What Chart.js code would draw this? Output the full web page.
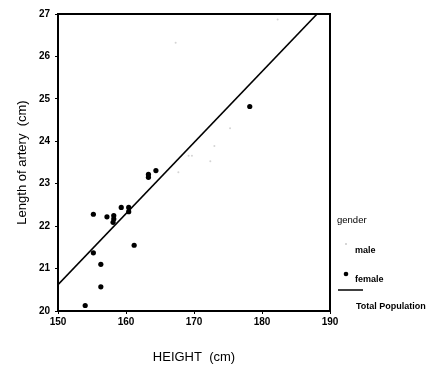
<!DOCTYPE html>
<html>
<head>
<meta charset="utf-8">
<script src="https://cdn.jsdelivr.net/npm/chart.js@4"></script>
<style>
  body { margin: 0; background: #fff; }
</style>
</head>
<body>
<canvas id="arteryChart" width="432" height="366"></canvas>
<script>
// ========================
// DADOS
// ========================

const femaleHeight = [155.2, 157.2, 158.2, 158.2, 158.1, 159.3, 160.4, 160.4, 163.3, 163.3, 164.4, 178.2, 161.2, 155.2, 156.3, 156.3, 154.0];
const femaleLength = [22.28, 22.22, 22.25, 22.17, 22.09, 22.44, 22.44, 22.34, 23.22, 23.15, 23.31, 24.82, 21.55, 21.37, 21.10, 20.57, 20.13];

const maleHeight = [167.3, 182.3, 175.3, 173.0, 169.2, 169.7, 172.4, 167.7];
const maleLength = [26.32, 26.87, 24.31, 23.89, 23.66, 23.66, 23.53, 23.27];

// reta de regressão (população total)
const fitHeight = [150, 188.1];
const fitLength = [20.62, 27];

const xTicks = [150, 160, 170, 180, 190];
const yTicks = [20, 21, 22, 23, 24, 25, 26, 27];

const toPoints = (xs, ys) => xs.map((x, i) => ({ x: x, y: ys[i] }));

const FONT = 'Liberation Sans, Arial, sans-serif';

// ========================
// MOLDURA + LEGENDA
// ========================

const framePlugin = {
  id: 'frame',
  afterDatasetsDraw(chart) {
    const { ctx, chartArea: a } = chart;
    ctx.save();
    ctx.strokeStyle = '#000';
    ctx.lineWidth = 2;
    ctx.strokeRect(a.left, a.top, a.right - a.left, a.bottom - a.top);
    ctx.restore();
  }
};

const legendPlugin = {
  id: 'genderLegend',
  afterDraw(chart) {
    const ctx = chart.ctx;
    ctx.save();
    ctx.fillStyle = '#000';
    ctx.textBaseline = 'middle';
    ctx.textAlign = 'left';

    ctx.font = '9.5px ' + FONT;
    ctx.fillText('gender', 337, 220);

    ctx.font = 'bold 9px ' + FONT;
    // male
    ctx.fillStyle = '#c8c8c8';
    ctx.beginPath();
    ctx.arc(346, 244, 1, 0, Math.PI * 2);
    ctx.fill();
    ctx.fillStyle = '#000';
    ctx.fillText('male', 355, 251);

    // female
    ctx.beginPath();
    ctx.arc(346, 274, 2.3, 0, Math.PI * 2);
    ctx.fill();
    ctx.fillText('female', 355, 280);

    // total
    ctx.strokeStyle = '#000';
    ctx.lineWidth = 1.5;
    ctx.beginPath();
    ctx.moveTo(338, 290);
    ctx.lineTo(363, 290);
    ctx.stroke();
    ctx.fillText('Total Population', 356, 307);
    ctx.restore();
  }
};

// ========================
// GRÁFICO
// ========================

const ctx = document.getElementById('arteryChart');

new Chart(ctx, {
  type: 'scatter',
  data: {
    datasets: [
      {
        label: 'male',
        data: toPoints(maleHeight, maleLength),
        pointRadius: 1,
        pointBackgroundColor: '#d4d4d4',
        pointBorderWidth: 0
      },
      {
        label: 'female',
        data: toPoints(femaleHeight, femaleLength),
        pointRadius: 2.6,
        pointBackgroundColor: '#000',
        pointBorderWidth: 0
      },
      {
        label: 'Total Population',
        type: 'line',
        data: toPoints(fitHeight, fitLength),
        borderColor: '#000',
        borderWidth: 1.6,
        pointRadius: 0,
        fill: false
      }
    ]
  },
  options: {
    responsive: false,
    animation: false,
    devicePixelRatio: 1,
    layout: {
      padding: { top: 14, right: 102, bottom: 0, left: 0 }
    },
    plugins: {
      legend: { display: false },
      tooltip: { enabled: false }
    },
    scales: {
      x: {
        type: 'linear',
        min: 150,
        max: 190,
        afterBuildTicks(scale) {
          scale.ticks = xTicks.map(v => ({ value: v }));
        },
        afterFit(scale) {
          scale.height = 366 - 311;
        },
        grid: { drawOnChartArea: false, drawTicks: true, tickLength: 3, color: '#000' },
        border: { display: false },
        ticks: { color: '#000', font: { family: FONT, size: 10, weight: 'bold' }, padding: 2 },
        title: {
          display: true,
          text: 'HEIGHT  (cm)',
          color: '#000',
          font: { family: FONT, size: 13 },
          padding: { top: 0, bottom: 1 }
        }
      },
      y: {
        type: 'linear',
        min: 20,
        max: 27,
        afterBuildTicks(scale) {
          scale.ticks = yTicks.map(v => ({ value: v }));
        },
        afterFit(scale) {
          scale.width = 58;
        },
        grid: { drawOnChartArea: false, drawTicks: true, tickLength: 3, color: '#000' },
        border: { display: false },
        ticks: { color: '#000', font: { family: FONT, size: 10, weight: 'bold' }, padding: 5 },
        title: {
          display: true,
          text: 'Length of artery  (cm)',
          color: '#000',
          font: { family: FONT, size: 13 },
          padding: { top: 15, bottom: 0 }
        }
      }
    }
  },
  plugins: [framePlugin, legendPlugin]
});
</script>
</body>
</html>
